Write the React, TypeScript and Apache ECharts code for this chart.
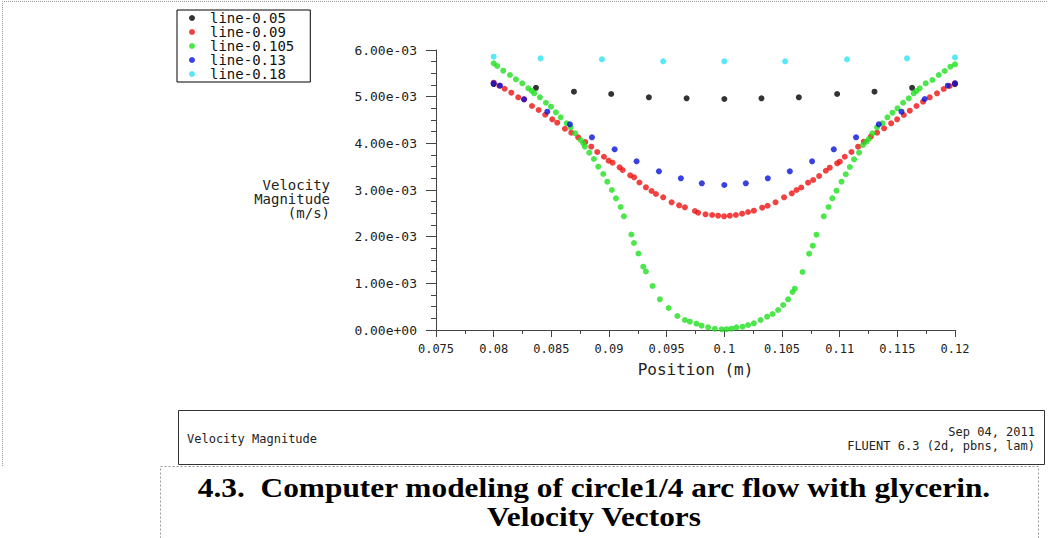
import React, { useEffect, useRef } from "react";
import * as echarts from "echarts";

// ---- data (x in m, velocity in 1e-3 m/s) ----
const seriesNames = ["line-0.05", "line-0.09", "line-0.105", "line-0.13", "line-0.18"];
const seriesColors = ["#000000", "#ee1212", "#20e020", "#0812d8", "#30e2f2"];

const line005X = [0.08, 0.08367, 0.08696, 0.09019, 0.09346, 0.09673, 0.1, 0.10322, 0.10646, 0.10978, 0.11302, 0.11628, 0.12];
const line005V = [5.27, 5.19, 5.106, 5.057, 4.986, 4.965, 4.95, 4.965, 4.986, 5.057, 5.106, 5.19, 5.27];

const line009X = [0.08, 0.08049, 0.08095, 0.08153, 0.08213, 0.08265, 0.08332, 0.0839, 0.08447, 0.08508, 0.08551, 0.08618, 0.08673, 0.08733, 0.08794, 0.08846, 0.08898, 0.08956, 0.08997, 0.09031, 0.09092, 0.09118, 0.09184, 0.09218, 0.09264, 0.0932, 0.09369, 0.09407, 0.0947, 0.09543, 0.09608, 0.09658, 0.09745, 0.09773, 0.09837, 0.09894, 0.09946, 0.09998, 0.10048, 0.101, 0.10154, 0.10206, 0.10256, 0.10328, 0.10375, 0.10444, 0.10518, 0.10585, 0.10626, 0.10667, 0.10726, 0.1077, 0.10822, 0.1088, 0.10914, 0.10978, 0.11001, 0.11044, 0.11102, 0.1116, 0.11209, 0.1127, 0.11324, 0.11385, 0.11446, 0.11498, 0.11556, 0.11608, 0.11666, 0.11723, 0.11781, 0.11844, 0.11902, 0.11954, 0.12];
const line009V = [5.299, 5.235, 5.17, 5.085, 4.986, 4.943, 4.8, 4.714, 4.613, 4.515, 4.442, 4.313, 4.228, 4.129, 4.028, 3.928, 3.814, 3.713, 3.628, 3.585, 3.486, 3.428, 3.315, 3.272, 3.161, 3.058, 2.978, 2.914, 2.843, 2.736, 2.672, 2.629, 2.55, 2.513, 2.479, 2.464, 2.449, 2.436, 2.449, 2.464, 2.492, 2.528, 2.556, 2.621, 2.663, 2.736, 2.843, 2.929, 3.0, 3.054, 3.156, 3.214, 3.3, 3.413, 3.478, 3.572, 3.606, 3.713, 3.814, 3.928, 4.035, 4.142, 4.228, 4.322, 4.429, 4.515, 4.607, 4.699, 4.8, 4.892, 4.986, 5.072, 5.164, 5.228, 5.286];

const line0105X = [0.08, 0.08031, 0.08083, 0.08141, 0.08193, 0.08248, 0.083, 0.08329, 0.08352, 0.08401, 0.08453, 0.08497, 0.0854, 0.08581, 0.08633, 0.08667, 0.08707, 0.08754, 0.08777, 0.08791, 0.08829, 0.08869, 0.08907, 0.0895, 0.08985, 0.09025, 0.0906, 0.09101, 0.09129, 0.09194, 0.09216, 0.09255, 0.09297, 0.0932, 0.09378, 0.09441, 0.09517, 0.09593, 0.09658, 0.09701, 0.09758, 0.09803, 0.0986, 0.09918, 0.09976, 0.10019, 0.10063, 0.10106, 0.10158, 0.10206, 0.10256, 0.10314, 0.10371, 0.10418, 0.10466, 0.1051, 0.10553, 0.10591, 0.10611, 0.10678, 0.10735, 0.10767, 0.10799, 0.10862, 0.10903, 0.10936, 0.10973, 0.11016, 0.11053, 0.11088, 0.11125, 0.11168, 0.11203, 0.11232, 0.11252, 0.11284, 0.11324, 0.11371, 0.11414, 0.11458, 0.11501, 0.1155, 0.11599, 0.11642, 0.11666, 0.11694, 0.11746, 0.11804, 0.11859, 0.11911, 0.1196, 0.12];
const line0105V = [5.715, 5.657, 5.556, 5.464, 5.372, 5.286, 5.179, 5.128, 5.072, 4.986, 4.87, 4.785, 4.665, 4.558, 4.429, 4.343, 4.215, 4.071, 4.0, 3.928, 3.799, 3.664, 3.499, 3.343, 3.178, 3.0, 2.822, 2.636, 2.436, 2.046, 1.864, 1.639, 1.356, 1.253, 0.943, 0.658, 0.471, 0.3, 0.214, 0.178, 0.135, 0.092, 0.058, 0.026, 0.015, 0.017, 0.028, 0.058, 0.071, 0.107, 0.144, 0.214, 0.285, 0.343, 0.429, 0.536, 0.658, 0.814, 0.885, 1.243, 1.635, 1.806, 2.042, 2.436, 2.636, 2.822, 2.985, 3.178, 3.338, 3.493, 3.658, 3.799, 3.964, 4.035, 4.093, 4.215, 4.343, 4.429, 4.558, 4.656, 4.75, 4.87, 4.965, 5.072, 5.121, 5.179, 5.286, 5.357, 5.464, 5.55, 5.642, 5.693];

const line013X = [0.08, 0.08055, 0.08263, 0.08465, 0.08661, 0.08852, 0.09049, 0.09239, 0.09433, 0.09623, 0.09805, 0.1, 0.10186, 0.10377, 0.10568, 0.10761, 0.10949, 0.11142, 0.11339, 0.11536, 0.11738, 0.11937, 0.12];
const line013V = [5.286, 5.235, 4.943, 4.678, 4.408, 4.129, 3.872, 3.615, 3.4, 3.25, 3.143, 3.107, 3.143, 3.25, 3.4, 3.615, 3.872, 4.129, 4.408, 4.678, 4.95, 5.235, 5.286];

const line018X = [0.08, 0.08407, 0.08939, 0.0947, 0.1, 0.10527, 0.11064, 0.11584, 0.12];
const line018V = [5.856, 5.82, 5.8, 5.757, 5.757, 5.757, 5.8, 5.82, 5.84];

const xTicks = { min: 0.075, max: 0.12, step: 0.005 };
const yTicks = { min: 0, max: 0.006, step: 0.001 };
const yTitle = "Velocity\nMagnitude\n(m/s)";
const xTitle = "Position (m)";

const seriesX = [line005X, line009X, line0105X, line013X, line018X];
const seriesV = [line005V, line009V, line0105V, line013V, line018V];

const MONO = "'DejaVu Sans Mono', 'Liberation Mono', monospace";
const SERIF = "'Liberation Serif', 'Times New Roman', serif";

function fmtExp(v: number): string {
  const s = v.toExponential(2);
  const [m, e] = s.split("e");
  const sign = e[0] === "-" ? "-" : "+";
  const digits = e.replace(/[+-]/, "").padStart(2, "0");
  return `${m}e${sign}${digits}`;
}

export default function App() {
  const ref = useRef<HTMLDivElement>(null);
  useEffect(() => {
    if (!ref.current) return;
    document.body.style.margin = "0";
    const chart = echarts.init(ref.current, null, { renderer: "svg" });
    const series = seriesNames.map((name, i) => ({
      name,
      type: "scatter",
      symbol: "circle",
      symbolSize: 6,
      itemStyle: { color: seriesColors[i] },
      data: seriesX[i].map((x, k) => [x, seriesV[i][k] * 1e-3]),
    }));
    chart.setOption({
      animation: false,
      backgroundColor: "#ffffff",
      textStyle: { fontFamily: MONO },
      grid: { left: 436, right: 93, top: 50, bottom: 208, containLabel: false },
      legend: {
        orient: "vertical",
        left: 177,
        top: 10,
        icon: "circle",
        itemWidth: 6,
        itemHeight: 6,
        itemGap: 0,
        padding: [1, 16, 1, 12],
        borderColor: "#000",
        borderWidth: 1,
        borderRadius: 0,
        data: seriesNames,
        formatter: (n: string) => `{t|${n}}`,
        textStyle: {
          color: "#111",
          fontFamily: MONO,
          fontSize: 14,
          lineHeight: 12,
          rich: { t: { fontFamily: MONO, fontSize: 14, lineHeight: 12, height: 12, padding: [0, 0, 0, 10], color: "#111" } },
        },
      },
      xAxis: {
        type: "value",
        min: xTicks.min,
        max: xTicks.max,
        interval: xTicks.step,
        name: xTitle,
        nameLocation: "middle",
        nameGap: 31,
        nameTextStyle: { fontFamily: MONO, fontSize: 16, color: "#222" },
        axisLine: { lineStyle: { color: "#444", width: 1 } },
        axisTick: { show: true, length: 7, lineStyle: { color: "#444" } },
        minorTick: { show: true, splitNumber: 2, length: 4, lineStyle: { color: "#444" } },
        splitLine: { show: false },
        axisLabel: {
          margin: 13,
          fontFamily: MONO,
          fontSize: 12,
          color: "#222",
          formatter: (v: number) => String(parseFloat(v.toFixed(4))),
        },
      },
      yAxis: {
        type: "value",
        min: yTicks.min,
        max: yTicks.max,
        interval: yTicks.step,
        axisLine: { show: true, lineStyle: { color: "#444", width: 1 } },
        axisTick: { show: true, length: 10, lineStyle: { color: "#444" } },
        minorTick: { show: true, splitNumber: 4, length: 5, lineStyle: { color: "#444" } },
        splitLine: { show: false },
        axisLabel: { margin: 19, fontFamily: MONO, fontSize: 13, color: "#222", formatter: fmtExp },
      },
      series,
      graphic: [
        {
          type: "text",
          x: 330,
          y: 199,
          style: {
            text: yTitle,
            font: `14px ${MONO}`,
            lineHeight: 14,
            fill: "#222",
            textAlign: "right",
            textVerticalAlign: "middle",
          },
        },
        {
          type: "polyline",
          silent: true,
          shape: { points: [[1047, 1.5], [2.5, 1.5], [2.5, 466]] },
          style: { stroke: "#999", lineWidth: 1, lineDash: [1, 1], fill: "none" },
        },
        {
          type: "rect",
          silent: true,
          shape: { x: 178.5, y: 410.5, width: 866, height: 54 },
          style: { stroke: "#333", lineWidth: 1, fill: "none" },
        },
        {
          type: "text",
          x: 187,
          y: 439,
          style: { text: "Velocity Magnitude", font: `12px ${MONO}`, fill: "#222", textAlign: "left", textVerticalAlign: "middle" },
        },
        {
          type: "text",
          x: 1035,
          y: 432,
          style: { text: "Sep 04, 2011", font: `12px ${MONO}`, fill: "#222", textAlign: "right", textVerticalAlign: "middle" },
        },
        {
          type: "text",
          x: 1035,
          y: 446,
          style: { text: "FLUENT 6.3 (2d, pbns, lam)", font: `12px ${MONO}`, fill: "#222", textAlign: "right", textVerticalAlign: "middle" },
        },
        {
          type: "rect",
          silent: true,
          shape: { x: 160.5, y: 466.5, width: 878, height: 90 },
          style: { stroke: "#999", lineWidth: 1, lineDash: [2, 2], fill: "none" },
        },
        {
          type: "text",
          x: 594,
          y: 488,
          scaleX: 1.12,
          style: {
            text: "4.3.  Computer modeling of circle1/4 arc flow with glycerin.",
            font: `bold 28px ${SERIF}`,
            fill: "#000",
            textAlign: "center",
            textVerticalAlign: "middle",
          },
        },
        {
          type: "text",
          x: 594,
          y: 517,
          scaleX: 1.12,
          style: { text: "Velocity Vectors", font: `bold 28px ${SERIF}`, fill: "#000", textAlign: "center", textVerticalAlign: "middle" },
        },
      ],
    });
    return () => chart.dispose();
  }, []);
  return <div ref={ref} style={{ position: "absolute", left: 0, top: 0, width: 1048, height: 538 }} />;
}
